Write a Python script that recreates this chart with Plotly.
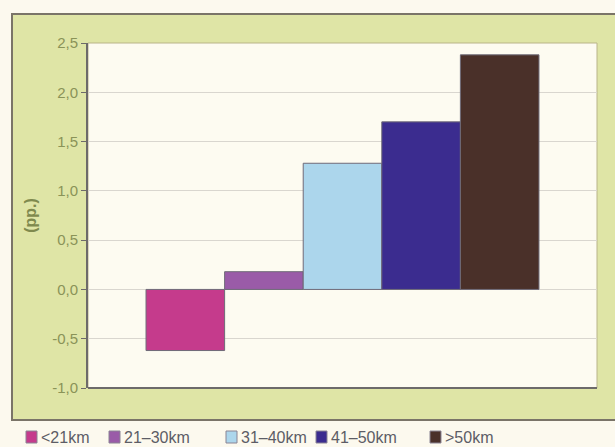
import plotly.graph_objects as go

# Distance bands and their change in percentage points
bands = ["<21km", "21–30km", "31–40km", "41–50km", ">50km"]
values = [-0.62, 0.18, 1.28, 1.70, 2.38]
colors = ["#c53b8c", "#9a5ba8", "#acd6ec", "#3b2c8f", "#4a3029"]

# Y axis ticks with comma decimals
tick_vals = [-1.0, -0.5, 0.0, 0.5, 1.0, 1.5, 2.0, 2.5]
tick_text = ["-1,0", "-0,5", "0,0", "0,5", "1,0", "1,5", "2,0", "2,5"]

# Left pixel of each legend swatch
legend_x = [26, 109, 226, 316, 430]

W, H = 615, 447
L, R, T, B = 88, 18, 43, 59
pw, ph = W - L - R, H - T - B

def px_x(x):
    return (x - L) / pw

def px_y(y):
    return (H - B - y) / ph

fig = go.Figure()
for name, v, c in zip(bands, values, colors):
    fig.add_trace(go.Bar(
        x=["all"], y=[v], name=name, showlegend=False,
        marker=dict(color=c, line=dict(color="#6f6a78", width=1)),
    ))

shapes = [
    # green panel behind the chart
    dict(type="rect", xref="paper", yref="paper", layer="below",
         x0=px_x(12), x1=px_x(640), y0=px_y(420), y1=px_y(14),
         fillcolor="#dfe5a6", line=dict(color="#7a7468", width=2)),
    # plot area
    dict(type="rect", xref="paper", yref="paper", layer="below",
         x0=0, x1=1, y0=0, y1=1,
         fillcolor="#fdfbf1", line=dict(color="#b9b489", width=1)),
    # bottom axis line
    dict(type="line", xref="paper", yref="paper", layer="above",
         x0=0, x1=1, y0=0, y1=0, line=dict(color="#6d6a6a", width=2)),
]
annotations = []
# Legend row beneath the panel
for lx, name, c in zip(legend_x, bands, colors):
    shapes.append(dict(type="rect", xref="paper", yref="paper", layer="above",
                       x0=px_x(lx), x1=px_x(lx + 11), y0=px_y(443), y1=px_y(431),
                       fillcolor=c, line=dict(color="#8a8494", width=1)))
    annotations.append(dict(text=name, xref="paper", yref="paper",
                            x=px_x(lx + 13), y=px_y(437), xanchor="left", yanchor="middle",
                            showarrow=False, font=dict(size=16, color="#5d5d66")))

fig.update_layout(
    width=W, height=H,
    margin=dict(l=L, r=R, t=T, b=B, autoexpand=False),
    paper_bgcolor="#fcf9ee",
    plot_bgcolor="rgba(0,0,0,0)",
    barmode="group", bargap=0.228, bargroupgap=0,
    font=dict(family="Liberation Sans, Arial", color="#8a9358"),
    showlegend=False,
    xaxis=dict(showticklabels=False, showgrid=False, zeroline=False,
               showline=False, ticks=""),
    yaxis=dict(
        range=[-1.0, 2.5], tickvals=tick_vals, ticktext=tick_text,
        showgrid=True, gridcolor="#d9d6cf", gridwidth=1,
        zeroline=False, showline=True, linecolor="#6d6a6a", linewidth=2,
        ticks="outside", ticklen=5, tickcolor="#6d6a6a",
        tickfont=dict(size=15, color="#8a9358"),
        title=dict(text="<b>(pp.)</b>", font=dict(size=16, color="#7f8a4e"), standoff=12),
    ),
    shapes=shapes,
    annotations=annotations,
)

fig.write_html("out.html")
